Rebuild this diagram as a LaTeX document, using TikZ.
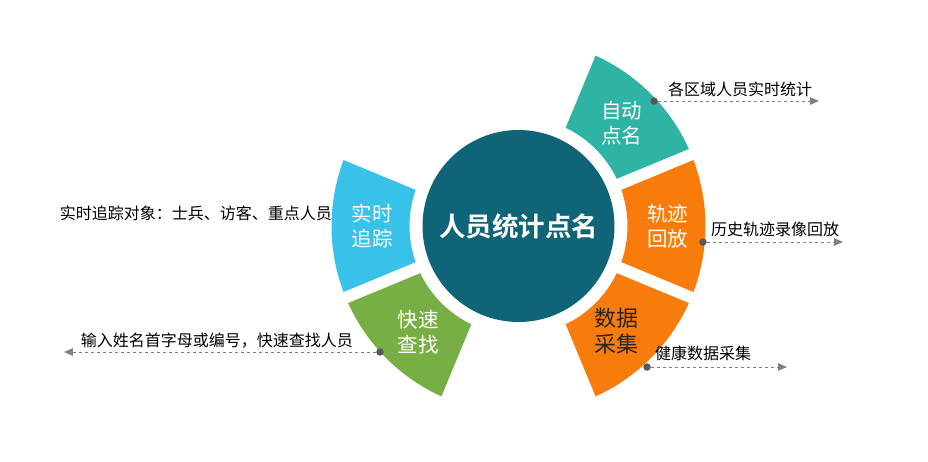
\documentclass[tikz,border=0pt]{standalone}
\usepackage{fontspec}
\usepackage{xcolor}
\usepackage{tikz}
\usetikzlibrary{positioning,arrows.meta,calc}

\newfontfamily\cjk{Noto Sans CJK SC}[BoldFont={Noto Sans CJK SC Bold}]

\definecolor{hubc}{HTML}{106478}
\definecolor{autoc}{HTML}{2FB3A4}
\definecolor{trackc}{HTML}{F77C0C}
\definecolor{datac}{HTML}{F77C0C}
\definecolor{tracec}{HTML}{38C1E9}
\definecolor{findc}{HTML}{77AF45}
\definecolor{pinc}{HTML}{595959}
\definecolor{linec}{HTML}{808080}

\begin{document}
\begin{tikzpicture}[
    x=1pt, y=1pt,
    font=\cjk,
    hub/.style={
        circle,
        fill=hubc,
        minimum size=192pt,
        inner sep=0pt,
        text=white,
        font=\cjk\bfseries\fontsize{26.5}{29}\selectfont
    },
    seg/.style={
        align=center,
        inner sep=0pt,
        text=white,
        font=\cjk\fontsize{20.5}{25}\selectfont
    },
    pin/.style={
        circle,
        fill=pinc,
        minimum size=7.5pt,
        inner sep=0pt
    },
    note/.style={
        inner sep=0pt,
        text=black,
        font=\cjk\fontsize{16}{18}\selectfont
    },
    arr/.style={
        -{Triangle[length=9pt,width=7.5pt]},
        draw=linec,
        line width=1pt,
        dash pattern=on 3.5pt off 2.5pt
    }
]
\useasboundingbox (-518.5,-235) rectangle (409.5,226);

\def\rin{109}
\def\rout{187}
\def\gap{6}

% ring of sectors
\foreach \m/\clr in {45/autoc, 0/trackc, -45/datac, 180/tracec, 225/findc}{
    \pgfmathsetmacro\ia{\m-22.5+asin(\gap/\rin)}
    \pgfmathsetmacro\ib{\m+22.5-asin(\gap/\rin)}
    \pgfmathsetmacro\oa{\m-22.5+asin(\gap/\rout)}
    \pgfmathsetmacro\ob{\m+22.5-asin(\gap/\rout)}
    \fill[\clr] (\ia:\rin) -- (\oa:\rout)
        arc[start angle=\oa, end angle=\ob, radius=\rout]
        -- (\ib:\rin)
        arc[start angle=\ib, end angle=\ia, radius=\rin] -- cycle;
}

% centre
\node[hub] (hub) at (0,0) {人员统计点名};

% sector labels
\node[seg] (auto) at (45:146) {自动\\点名};
\node[seg] (track) at (0:149) {轨迹\\回放};
\node[seg, text=black!85, font=\cjk\fontsize{22}{26}\selectfont] (data) at (-47:144) {数据\\采集};
\node[seg] (trace) at (180:146) {实时\\追踪};
\node[seg] (find) at (226.5:146) {快速\\查找};

% callouts
\node[pin] (pin-auto) at (135.5,125) {};
\coordinate (end-auto) at (300.5,125);
\draw[arr] (pin-auto) -- (end-auto);
\node[note, anchor=west] (note-auto) at (149.5,137) {各区域人员实时统计};

\node[pin] (pin-track) at (184.5,-16) {};
\coordinate (end-track) at (324.5,-16);
\draw[arr] (pin-track) -- (end-track);
\node[note, anchor=west] (note-track) at (192.5,-3) {历史轨迹录像回放};

\node[pin] (pin-data) at (128.5,-141) {};
\coordinate (end-data) at (268.5,-141);
\draw[arr] (pin-data) -- (end-data);
\node[note, anchor=west] (note-data) at (136.5,-127) {健康数据采集};

\node[pin] (pin-find) at (-138.5,-126) {};
\coordinate (end-find) at (-454.5,-126);
\draw[arr] (pin-find) -- (end-find);
\node[note, anchor=east] (note-find) at (-165.5,-115) {输入姓名首字母或编号，快速查找人员};

\node[note, anchor=east] (note-trace) at (-186.5,13) {实时追踪对象：士兵、访客、重点人员};

\end{tikzpicture}
\end{document}
